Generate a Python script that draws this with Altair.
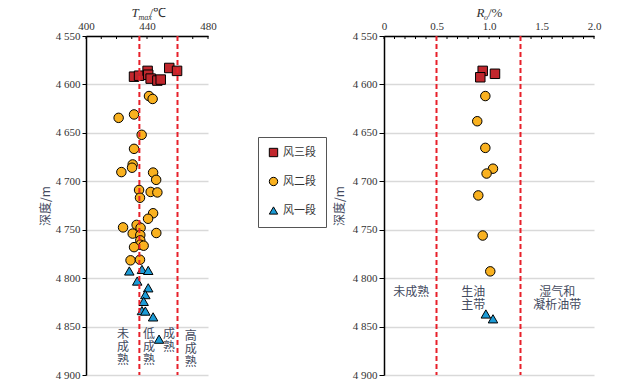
import altair as alt
import pandas as pd

# ---------------- data ----------------
series = ["风三段", "风二段", "风一段"]

# Tmax panel
t3_tmax = [431.5, 434.8, 440.4, 440.8, 442.4, 446.8, 449.0, 454.6, 459.7]
t3_depth = [4592, 4591, 4586, 4590, 4594, 4596, 4595, 4583, 4586]
t2_tmax = [441.3, 443.7, 421.4, 431.5, 436.5, 431.5, 430.6, 430.2, 423.2, 444.0,
           446.0, 434.8, 435.4, 442.4, 446.8, 444.0, 440.7, 424.3, 433.2, 435.8,
           430.6, 435.6, 446.1, 435.6, 435.6, 437.8, 431.5, 429.2, 435.4]
t2_depth = [4612, 4615, 4634.5, 4631, 4652, 4666.5, 4682.6, 4686, 4690.5, 4691,
            4698.5, 4709, 4717, 4711, 4711.5, 4733, 4738.7, 4747.6, 4745, 4748,
            4754, 4755.5, 4753.4, 4761, 4765.5, 4766.5, 4768, 4781.6, 4781]
t1_tmax = [428.4, 436.7, 440.8, 433.6, 440.8, 438.9, 437.8, 436.7, 438.9, 444.0, 447.9]
t1_depth = [4792.6, 4791, 4792, 4803, 4810, 4817, 4824, 4833.5, 4834, 4840, 4863]

# Ro panel
r3_ro = [0.94, 0.917, 1.057]
r3_depth = [4586, 4592.6, 4589]
r2_ro = [0.965, 0.888, 0.965, 1.038, 0.977, 0.898, 0.94, 1.012]
r2_depth = [4612, 4638, 4665.5, 4687, 4692, 4714.6, 4756, 4793]
r1_ro = [0.97, 1.038]
r1_depth = [4837, 4842]

tmax_limits = [435, 460]
ro_limits = [0.5, 1.3]

tmax_major = [400, 420, 440, 460, 480]
tmax_minor = [400, 410, 420, 430, 440, 450, 460, 470, 480]
ro_major = [0, 0.5, 1.0, 1.5, 2.0]
ro_minor = [round(i * 0.1, 1) for i in range(21)]
depth_ticks = [4550, 4600, 4650, 4700, 4750, 4800, 4850, 4900]

tmax_notes = ["未\n成\n熟", "低\n成\n熟", "成\n熟", "高\n成\n熟"]
tmax_note_x = [424.3, 441.3, 454.4, 468.7]
tmax_note_y = [4853, 4853, 4853, 4855]
ro_notes = ["未成熟", "生油\n主带", "湿气和\n凝析油带"]
ro_note_x = [0.26, 0.85, 1.65]
ro_note_y = [4809, 4809, 4809]

# ---------------- style ----------------
SERIF = "Liberation Serif, Times New Roman, serif"
CJK = "Noto Sans CJK SC"
TXT = "#434a5e"
colors = ["#c1272d", "#f9b11f", "#1c9bd6"]
shapes = ["square", "circle", "triangle-up"]


def mkdf(xs_list, ds_list, xname):
    rows = []
    for s, xs, ds in zip(series, xs_list, ds_list):
        for x, d in zip(xs, ds):
            rows.append({xname: x, "depth": d, "series": s})
    return pd.DataFrame(rows)


df_t = mkdf([t3_tmax, t2_tmax, t1_tmax], [t3_depth, t2_depth, t1_depth], "val")
df_r = mkdf([r3_ro, r2_ro, r1_ro], [r3_depth, r2_depth, r1_depth], "val")


def panel(df, domain, major, minor, limits, label_expr, notes, nx, ny,
          title_parts, show_legend, width, tick_size, title_pad):
    xscale = alt.Scale(domain=domain, nice=False, zero=False)
    yscale = alt.Scale(domain=[4550, 4900], reverse=True, nice=False, zero=False)
    xaxis = alt.Axis(orient="top", values=major, ticks=False, grid=False,
                     domainColor="black", domainWidth=1.5, labelFont=SERIF,
                     labelFontSize=11, labelColor="#333", labelPadding=5,
                     labelFlush=False, labelExpr=label_expr, title=None)
    yaxis = alt.Axis(values=depth_ticks, grid=True, gridColor="#d9d9d9", gridWidth=1.5,
                     domainColor="black", domainWidth=1.5, tickColor="black",
                     tickSize=tick_size, labelFont=SERIF, labelFontSize=11,
                     labelColor="#333", labelPadding=2, labelFlush=False,
                     labelExpr="floor(datum.value/1000) + ' ' + (datum.value % 1000)",
                     title="深度/m", titleFont=CJK, titleFontSize=12,
                     titleFontWeight="normal", titleColor=TXT, titlePadding=title_pad)
    if show_legend:
        leg = alt.Legend(orient="none", legendX=172, legendY=101, title=None,
                         strokeColor="#555", fillColor="white", padding=10,
                         rowPadding=16, symbolSize=70, symbolStrokeColor="black",
                         symbolStrokeWidth=1, labelFont=CJK, labelFontSize=11,
                         labelColor="#333", labelOffset=4)
    else:
        leg = None
    color = alt.Color("series:N", scale=alt.Scale(domain=series, range=colors), legend=leg)
    shape = alt.Shape("series:N", scale=alt.Scale(domain=series, range=shapes), legend=leg)

    pts = alt.Chart(df).mark_point(filled=True, stroke="black", strokeWidth=1,
                                   opacity=1, size=90).encode(
        x=alt.X("val:Q", scale=xscale, axis=xaxis),
        y=alt.Y("depth:Q", scale=yscale, axis=yaxis),
        color=color, shape=shape,
    )
    ticks = alt.Chart(pd.DataFrame({"val": minor})).mark_rule(
        color="black", strokeWidth=1).encode(
        x=alt.X("val:Q", scale=xscale), y=alt.value(0), y2=alt.value(3))
    rules = alt.Chart(pd.DataFrame({"val": limits})).mark_rule(
        color="#e8202a", strokeDash=[5, 3], strokeWidth=2).encode(
        x=alt.X("val:Q", scale=xscale))
    ndf = pd.DataFrame({"val": nx, "depth": ny, "txt": notes})
    nt = alt.Chart(ndf).mark_text(font=CJK, fontSize=12, color=TXT, align="center",
                                  baseline="top", lineBreak="\n", lineHeight=13).encode(
        x=alt.X("val:Q", scale=xscale), y=alt.Y("depth:Q", scale=yscale), text="txt:N")
    layers = [pts, ticks, rules, nt]
    one = pd.DataFrame({"a": [0]})
    for txt, px, py, fs, style in title_parts:
        layers.append(alt.Chart(one).mark_text(
            text=txt, font=SERIF, fontSize=fs, fontStyle=style, color="#333",
            align="left", baseline="alphabetic").encode(
            x=alt.value(px), y=alt.value(py)))
    return alt.layer(*layers).properties(width=width, height=339).resolve_scale(
        color="independent", shape="independent")


c1 = panel(df_t, [400, 480], tmax_major, tmax_minor, tmax_limits,
           "datum.value", tmax_notes, tmax_note_x, tmax_note_y,
           [("T", 45.5, -19, 13, "italic"), ("max", 52.5, -16, 8, "italic"),
            ("/℃", 63.5, -19, 13, "normal")],
           True, 122, 4, 3)
c2 = panel(df_r, [0, 2], ro_major, ro_minor, ro_limits,
           "datum.value == 0 ? '0' : format(datum.value, '.1f')", ro_notes,
           ro_note_x, ro_note_y,
           [("R", 92.5, -19, 13, "italic"), ("o", 100, -16, 8, "italic"),
            ("/%", 104, -19, 13, "normal")],
           False, 210, 5, 6)

chart = alt.hconcat(c1, c2, spacing=176, bounds="flush").resolve_scale(
    color="independent", shape="independent").properties(
    padding={"left": 31, "top": -1, "right": 5, "bottom": 5}
).configure_view(stroke=None)

chart.save("out.html", embed_options={"renderer": "svg", "actions": False})
